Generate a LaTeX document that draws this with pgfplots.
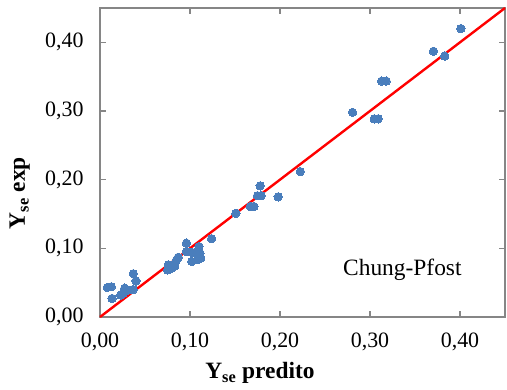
\documentclass[border=0pt]{standalone}
\usepackage{fontspec}
\setmainfont{Liberation Serif}
\usepackage{pgfplots}
\pgfplotsset{compat=1.18}
\definecolor{ptblue}{RGB}{74,126,188}
\definecolor{axgray}{RGB}{134,134,134}
\begin{document}
\begin{tikzpicture}
\begin{axis}[
  at={(0,0)}, anchor=south west,
  scale only axis,
  width=405bp, height=309bp,
  xmin=0, xmax=0.45, ymin=0, ymax=0.45,
  xtick={0,0.1,0.2,0.3,0.4},
  ytick={0,0.1,0.2,0.3,0.4},
  tick align=inside,
  major tick length=6bp,
  axis line style={axgray, line width=1.6bp},
  tick style={axgray, line width=1.2bp},
  every tick/.style={axgray, line width=1.2bp},
  /pgf/number format/.cd, fixed, fixed zerofill, precision=2, use comma, assume math mode=true,
  /pgfplots/.cd,
  ticklabel style={font=\fontsize{22}{25}\selectfont, text=black},
  xticklabel style={yshift=-12bp},
  yticklabel style={xshift=-13bp},
  xlabel={\textbf{Y\textsubscript{se} predito}},
  ylabel={\textbf{Y\textsubscript{se} exp}},
  label style={font=\fontsize{23.5}{26}\selectfont},
  xlabel style={anchor=center, at={(axis description cs:0.395,-0.182)}},
  ylabel style={anchor=center, at={(axis description cs:-0.198,0.401)}},
  clip=false,
]
\addplot[red, line width=2.4bp, no marks] coordinates {(0,0) (0.45,0.45)};
\addplot[only marks, mark=*, color=ptblue, mark size=4.2bp, mark options={draw=ptblue, fill=ptblue, line width=0pt}] coordinates {
(0.0081,0.043)
(0.0126,0.044)
(0.0134,0.027)
(0.023,0.032)
(0.0256,0.0345)
(0.0275,0.042)
(0.031,0.039)
(0.037,0.040)
(0.037,0.063)
(0.040,0.0525)
(0.075,0.0686)
(0.0795,0.071)
(0.083,0.0745)
(0.076,0.076)
(0.081,0.076)
(0.085,0.083)
(0.087,0.087)
(0.096,0.1075)
(0.096,0.095)
(0.102,0.094)
(0.1055,0.094)
(0.111,0.093)
(0.110,0.1027)
(0.102,0.081)
(0.109,0.084)
(0.112,0.086)
(0.124,0.114)
(0.151,0.151)
(0.167,0.161)
(0.171,0.161)
(0.175,0.1766)
(0.179,0.1766)
(0.178,0.191)
(0.198,0.175)
(0.2226,0.2117)
(0.2806,0.298)
(0.3047,0.2886)
(0.309,0.2886)
(0.313,0.3435)
(0.318,0.3435)
(0.3705,0.387)
(0.383,0.380)
(0.401,0.420)
};
\node[anchor=base, font=\fontsize{23.5}{26}\selectfont] at (axis cs:0.336,0.061) {Chung-Pfost};
\end{axis}
\pgfresetboundingbox
\path[use as bounding box] (-100bp,-73bp) rectangle (407bp,317bp);
\end{tikzpicture}
\end{document}
